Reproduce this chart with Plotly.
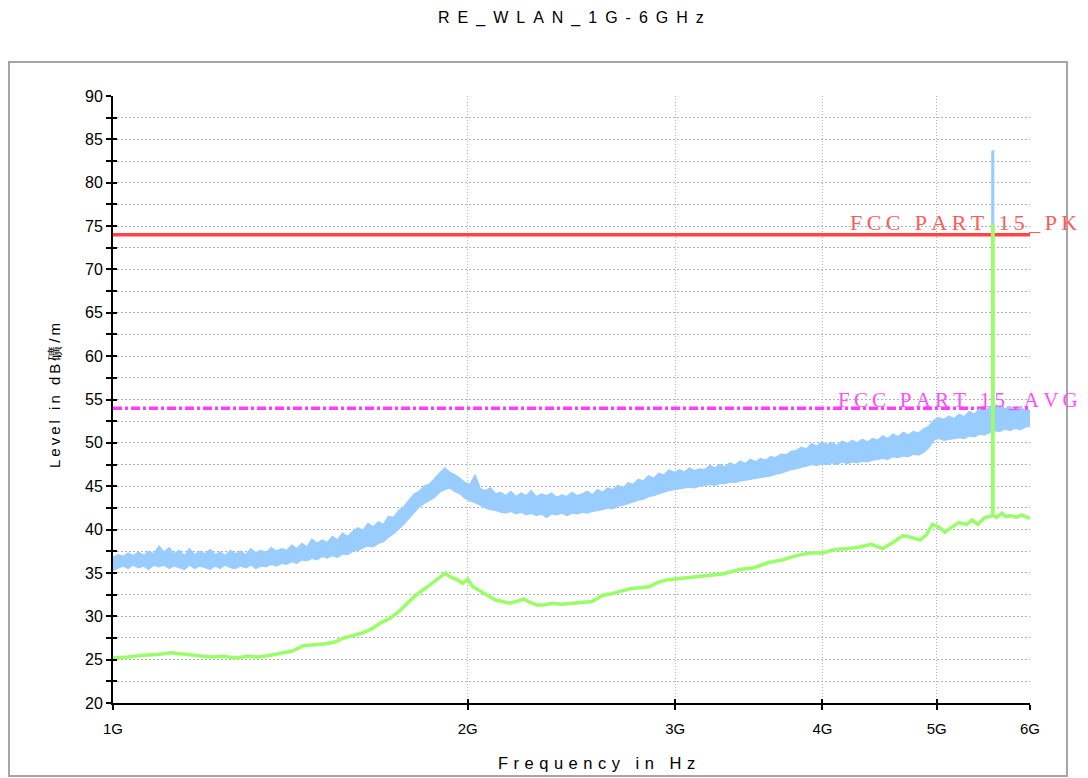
import math
import plotly.graph_objects as go

# ---------------- data (frequencies in GHz, levels in dBuV/m) ----------------
peak_freq = [
    1.000, 1.010, 1.020, 1.030, 1.040, 1.051, 1.062, 1.072, 1.083, 1.094, 1.105, 1.116, 1.127, 1.138,
    1.150, 1.161, 1.173, 1.185, 1.197, 1.209, 1.221, 1.233, 1.245, 1.258, 1.270, 1.283, 1.296, 1.309,
    1.322, 1.335, 1.349, 1.362, 1.376, 1.390, 1.404, 1.418, 1.432, 1.446, 1.461, 1.475, 1.490, 1.505,
    1.520, 1.535, 1.551, 1.566, 1.582, 1.598, 1.614, 1.630, 1.646, 1.663, 1.679, 1.696, 1.713, 1.730,
    1.748, 1.765, 1.783, 1.801, 1.819, 1.837, 1.855, 1.874, 1.893, 1.912, 1.931, 1.950, 1.970, 1.989,
    2.009, 2.029, 2.050, 2.070, 2.091, 2.112, 2.133, 2.154, 2.176, 2.198, 2.220, 2.242, 2.264, 2.287,
    2.310, 2.333, 2.356, 2.380, 2.404, 2.428, 2.452, 2.477, 2.501, 2.526, 2.552, 2.577, 2.603, 2.629,
    2.655, 2.682, 2.709, 2.736, 2.763, 2.791, 2.819, 2.847, 2.876, 2.904, 2.934, 2.963, 2.993, 3.023,
    3.053, 3.083, 3.114, 3.145, 3.177, 3.209, 3.241, 3.273, 3.306, 3.339, 3.372, 3.406, 3.440, 3.474,
    3.509, 3.544, 3.580, 3.615, 3.652, 3.688, 3.725, 3.762, 3.800, 3.838, 3.876, 3.915, 3.954, 3.994,
    4.034, 4.074, 4.115, 4.156, 4.197, 4.239, 4.282, 4.324, 4.368, 4.411, 4.455, 4.500, 4.545, 4.590,
    4.636, 4.683, 4.730, 4.777, 4.825, 4.873, 4.922, 4.971, 5.021, 5.071, 5.121, 5.173, 5.224, 5.277,
    5.329, 5.383, 5.436, 5.491, 5.546, 5.568, 5.570, 5.588, 5.590, 5.601, 5.657, 5.714, 5.771, 5.829,
    5.887, 5.946, 6.000]
peak_low = [
    35.3, 35.6, 35.8, 35.5, 35.9, 35.6, 35.8, 35.4, 35.9, 35.7, 35.9, 35.5, 35.8, 35.6,
    35.4, 35.9, 35.5, 35.8, 35.6, 35.4, 35.8, 35.5, 35.9, 35.6, 35.5, 35.8, 35.6, 35.9,
    35.5, 35.8, 35.7, 36.0, 35.8, 36.1, 36.0, 36.3, 36.1, 36.5, 36.4, 36.7, 36.5, 36.9,
    36.7, 37.0, 36.8, 37.2, 37.1, 37.5, 37.6, 37.9, 38.1, 38.0, 38.4, 38.6, 39.1, 39.5,
    40.1, 40.6, 41.3, 41.9, 42.6, 43.0, 43.3, 43.7, 44.3, 44.6, 44.8, 44.4, 44.1, 43.6,
    43.3, 43.1, 42.8, 42.5, 42.3, 42.2, 42.0, 41.9, 42.1, 41.8, 42.0, 41.7, 41.9, 41.6,
    41.8, 41.4, 41.8, 41.7, 41.9, 41.6, 41.9, 41.8, 42.0, 41.9, 42.1, 42.2, 42.3, 42.5,
    42.4, 42.7, 42.8, 43.0, 43.2, 43.4, 43.5, 43.8, 43.9, 44.1, 44.3, 44.5, 44.6, 44.7,
    44.8, 44.9, 44.8, 45.0, 45.1, 45.2, 45.1, 45.3, 45.3, 45.5, 45.4, 45.6, 45.7, 45.8,
    45.9, 46.0, 46.1, 46.2, 46.4, 46.5, 46.7, 46.9, 47.0, 47.2, 47.3, 47.5, 47.4, 47.6,
    47.5, 47.7, 47.5, 47.8, 47.6, 47.8, 47.7, 47.9, 47.8, 48.0, 48.1, 48.2, 48.1, 48.4,
    48.3, 48.5, 48.4, 48.7, 48.6, 48.9, 49.4, 50.3, 50.5, 50.3, 50.4, 50.5, 50.6, 50.5,
    50.8, 50.7, 51.0, 50.9, 51.2, 51.3, 51.3, 51.3, 51.3, 51.4, 51.3, 51.6, 51.4, 51.7,
    51.5, 51.8, 51.9]
peak_high = [
    36.8, 37.1, 36.9, 37.3, 37.0, 37.4, 37.0, 37.5, 37.2, 38.1, 37.4, 37.9, 37.2, 37.6,
    37.0, 37.8, 37.1, 37.5, 37.2, 37.7, 37.1, 37.4, 37.0, 37.6, 37.2, 37.5, 37.1, 37.8,
    37.3, 37.6, 37.3, 37.9, 37.5, 37.8, 37.6, 38.2, 37.8, 38.4, 38.0, 38.9, 38.4, 38.8,
    38.5, 39.2, 38.8, 39.6, 39.2, 39.8, 40.2, 39.9, 40.7, 40.3, 40.9, 40.6, 41.5, 41.4,
    42.2, 42.6, 43.4, 44.1, 44.4, 45.0, 45.2, 45.9, 46.5, 47.1, 46.6, 46.3, 45.9, 45.4,
    45.2, 46.3, 44.7, 44.5, 44.8, 44.1, 44.3, 43.9, 44.4, 43.8, 44.2, 43.9, 44.5, 43.8,
    44.1, 43.9, 44.2, 43.7, 44.0, 43.8, 44.3, 43.9, 44.1, 44.4, 44.0, 44.6, 44.3, 44.8,
    44.6, 45.1, 44.8, 45.4, 45.2, 45.8, 45.6, 46.2, 45.9, 46.5, 46.3, 46.9, 46.6, 46.9,
    46.6, 47.1, 46.8, 47.0, 46.9, 47.4, 47.1, 47.5, 47.2, 47.7, 47.4, 47.9, 47.6, 48.1,
    47.8, 48.2, 48.0, 48.4, 48.3, 48.7, 48.6, 49.0, 49.1, 49.5, 49.3, 49.9, 49.6, 50.1,
    49.8, 50.0, 49.7, 50.2, 49.9, 50.3, 50.0, 50.4, 50.1, 50.5, 50.3, 50.8, 50.5, 51.0,
    50.7, 51.2, 50.9, 51.3, 51.1, 51.6, 51.9, 52.6, 52.9, 52.7, 53.1, 52.8, 53.3, 53.0,
    53.6, 53.3, 53.9, 53.6, 54.2, 54.0, 83.6, 83.7, 54.0, 54.0, 54.3, 53.9, 54.2, 53.8,
    54.1, 53.7, 53.8]

avg_freq = [1.00, 1.03, 1.06, 1.09, 1.12, 1.15, 1.18, 1.21, 1.24, 1.27, 1.30, 1.33, 1.36, 1.39,
            1.42, 1.45, 1.48, 1.51, 1.54, 1.57, 1.60, 1.63, 1.66, 1.69, 1.72, 1.75, 1.78, 1.81,
            1.84, 1.87, 1.90, 1.915, 1.93, 1.96, 1.98, 2.00, 2.02, 2.05, 2.08, 2.11, 2.14, 2.17,
            2.20, 2.23, 2.26, 2.29, 2.32, 2.36, 2.40, 2.45, 2.50, 2.55, 2.60, 2.65, 2.70, 2.75,
            2.80, 2.85, 2.90, 2.95, 3.00, 3.10, 3.20, 3.30, 3.40, 3.50, 3.60, 3.70, 3.80, 3.90,
            4.00, 4.10, 4.20, 4.30, 4.40, 4.50, 4.60, 4.68, 4.76, 4.84, 4.90, 4.96, 5.02, 5.08,
            5.14, 5.22, 5.30, 5.36, 5.42, 5.48, 5.54, 5.578, 5.579, 5.581, 5.582, 5.62, 5.68,
            5.72, 5.78, 5.84, 5.90, 5.96, 6.00]
avg_level = [25.2, 25.3, 25.5, 25.6, 25.8, 25.6, 25.5, 25.3, 25.4, 25.2, 25.4, 25.3, 25.5, 25.8,
             26.0, 26.6, 26.7, 26.8, 27.0, 27.5, 27.8, 28.1, 28.6, 29.3, 29.8, 30.6, 31.6, 32.5,
             33.2, 33.9, 34.6, 35.0, 34.6, 34.2, 33.8, 34.3, 33.4, 32.9, 32.3, 31.9, 31.7, 31.5,
             31.7, 32.0, 31.6, 31.3, 31.3, 31.5, 31.4, 31.5, 31.6, 31.7, 32.4, 32.6, 32.9, 33.2,
             33.3, 33.4, 33.9, 34.2, 34.3, 34.5, 34.7, 34.9, 35.4, 35.6, 36.2, 36.5, 37.0, 37.3,
             37.3, 37.7, 37.8, 38.0, 38.3, 37.8, 38.6, 39.3, 39.1, 38.8, 39.4, 40.6, 40.3, 39.7,
             40.2, 40.8, 40.6, 41.1, 40.6, 41.3, 41.5, 41.6, 75.0, 75.0, 41.6, 41.4, 41.9,
             41.5, 41.6, 41.4, 41.7, 41.5, 41.3]

limit_freq = [1.0, 6.0]
limit_pk = 74.0
limit_avg = 54.0
limit_pk_name = "FCC PART 15_PK"
limit_avg_name = "FCC PART 15_AVG"

x_tickvals = [1, 2, 3, 4, 5, 6]
x_ticktext = ["1G", "2G", "3G", "4G", "5G", "6G"]
title_text = "RE_WLAN_1G-6GHz"
x_title = "Frequency in Hz"
y_title = "Level in dB礦/m"

# ---------------- styling ----------------
BLUE = "#99CCFF"
GREEN = "#99FF66"
RED = "#FF4444"
MAGENTA = "#FF3DFF"
GRID = "#B4B4B4"
SANS = "Arial, Liberation Sans, sans-serif"
SERIF = "Liberation Serif, Times New Roman, serif"


def spaced(s, sep):
    return sep.join(ch if ch != " " else "\u00a0" for ch in s)


# the page body has an 8px margin: figure is sized so the plot area lands at
# page x 113..1030, y 96..703
OFF = 8
W, H = 1088 - OFF, 778 - OFF
L, R, T, B = 113 - OFF, 58, 96 - OFF, 75
PX0, PX1, PY0, PY1 = 113, 1030, 96, 703


def px(x):  # page x -> paper
    return (x - PX0) / (PX1 - PX0)


def py(y):  # page y -> paper
    return (PY1 - y) / (PY1 - PY0)


fig = go.Figure()

# limit lines (drawn first, under the traces)
fig.add_trace(go.Scatter(x=limit_freq, y=[limit_pk] * 2, mode="lines",
                         line=dict(color=RED, width=3.5), hoverinfo="skip", showlegend=False))
fig.add_trace(go.Scatter(x=limit_freq, y=[limit_avg] * 2, mode="lines",
                         line=dict(color=MAGENTA, width=3.5, dash="9px,3px,3px,3px"),
                         hoverinfo="skip", showlegend=False))

# peak trace as a band between envelopes
fig.add_trace(go.Scatter(x=peak_freq, y=peak_low, mode="lines",
                         line=dict(color=BLUE, width=1.2), showlegend=False))
fig.add_trace(go.Scatter(x=peak_freq, y=peak_high, mode="lines", fill="tonexty",
                         fillcolor=BLUE, line=dict(color=BLUE, width=1.4), showlegend=False))

# average trace
fig.add_trace(go.Scatter(x=avg_freq, y=avg_level, mode="lines",
                         line=dict(color=GREEN, width=3.5), showlegend=False))

# helper trace for crossing ticks (inside ticks)
fig.add_trace(go.Scatter(x=[], y=[], xaxis="x2", yaxis="y2", showlegend=False))

fig.update_layout(
    width=W, height=H,
    margin=dict(l=L, r=R, t=T, b=B, pad=0),
    paper_bgcolor="white", plot_bgcolor="white",
    showlegend=False,
    xaxis=dict(type="log", range=[0, math.log10(6)], tickvals=x_tickvals, ticktext=x_ticktext,
               ticks="outside", ticklen=5, tickwidth=1.5, tickcolor="black", ticklabelstandoff=6,
               showline=True, linecolor="black", linewidth=2,
               showgrid=True, gridcolor=GRID, griddash="1px,2px", gridwidth=1,
               zeroline=False, tickfont=dict(family=SANS, size=15, color="black"), fixedrange=True),
    yaxis=dict(range=[20, 90], tick0=20, dtick=5,
               ticks="outside", ticklen=5, tickwidth=1.5, tickcolor="black",
               minor=dict(dtick=2.5, ticks="outside", ticklen=5, tickwidth=1.5, tickcolor="black",
                          showgrid=True, gridcolor=GRID, griddash="2px,2px", gridwidth=1),
               showline=True, linecolor="black", linewidth=2,
               showgrid=True, gridcolor=GRID, griddash="2px,2px", gridwidth=1,
               zeroline=False, tickfont=dict(family=SANS, size=16, color="black"), fixedrange=True),
    xaxis2=dict(type="log", range=[0, math.log10(6)], tickvals=x_tickvals, overlaying="x",
                anchor="y", side="bottom", ticks="inside", ticklen=4, tickwidth=1.5,
                tickcolor="black", showticklabels=False, showgrid=False, showline=False,
                zeroline=False),
    yaxis2=dict(range=[20, 90], tick0=20, dtick=5, overlaying="y", anchor="x", side="left",
                ticks="inside", ticklen=4, tickwidth=1.5, tickcolor="black",
                minor=dict(dtick=2.5, ticks="inside", ticklen=4, tickwidth=1.5, tickcolor="black"),
                showticklabels=False, showgrid=False, showline=False, zeroline=False),
)

# outer frame
fig.add_shape(type="rect", xref="paper", yref="paper",
              x0=px(9), x1=px(1067), y0=py(776), y1=py(62),
              line=dict(color="#A6A6A6", width=2), layer="below")

annotations = [
    dict(text=spaced(title_text, "\u2002"), x=px(571), y=py(18), xanchor="center", yanchor="middle",
         font=dict(family=SANS, size=16, color="black")),
    dict(text=spaced(x_title, "\u2004"), x=px(596), y=py(763), xanchor="center", yanchor="middle",
         font=dict(family=SANS, size=16.5, color="black")),
    dict(text=spaced(y_title, "\u2009"), x=px(54), y=py(395), xanchor="center", yanchor="middle",
         textangle=-90, font=dict(family=SANS, size=15, color="black")),
    dict(text=spaced(limit_pk_name, "\u2009"), x=px(848), y=py(222), xanchor="left", yanchor="middle",
         font=dict(family=SERIF, size=22, color="#FF5A5A")),
    dict(text=spaced(limit_avg_name, "\u2009"), x=px(836), y=py(400), xanchor="left", yanchor="middle",
         font=dict(family=SERIF, size=21, color="#FF4DFF")),
]
for a in annotations:
    fig.add_annotation(xref="paper", yref="paper", showarrow=False, **a)

fig.write_html("out.html")
